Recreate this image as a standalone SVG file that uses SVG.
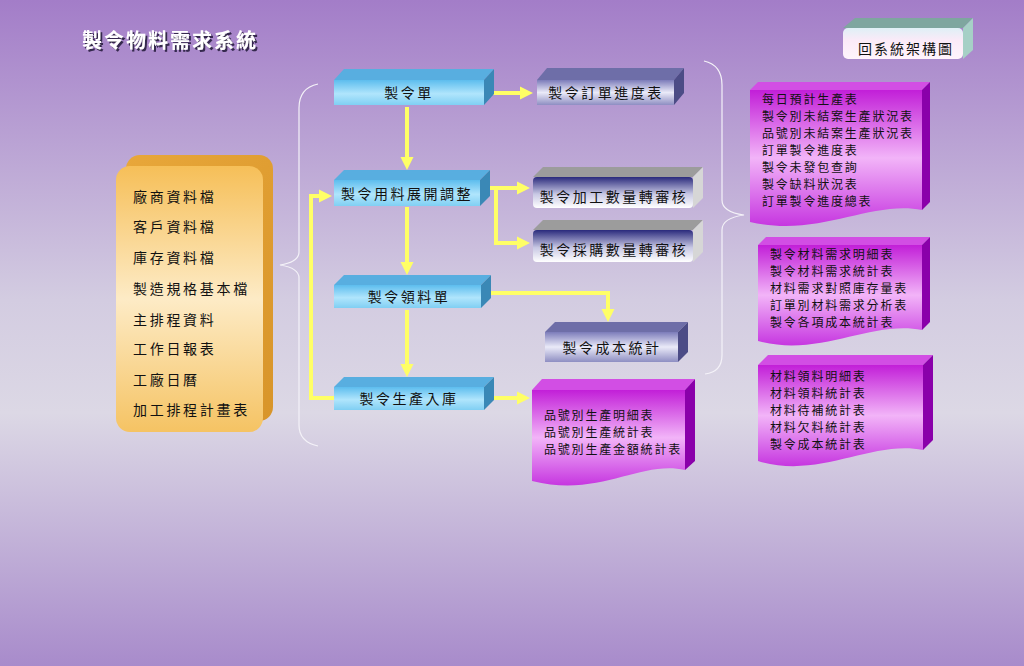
<svg xmlns="http://www.w3.org/2000/svg" width="1024" height="666" viewBox="0 0 1024 666">
<defs>
<linearGradient id="bg" x1="0" y1="0" x2="0" y2="1">
<stop offset="0" stop-color="#a37dc8"/>
<stop offset="0.45" stop-color="#d3cce1"/>
<stop offset="0.62" stop-color="#dcd8e5"/>
<stop offset="1" stop-color="#a88bcb"/>
</linearGradient>
<linearGradient id="blueF" x1="0" y1="0" x2="0" y2="1">
<stop offset="0" stop-color="#5dbdee"/>
<stop offset="0.55" stop-color="#b0e5fc"/>
<stop offset="1" stop-color="#80cff3"/>
</linearGradient>
<linearGradient id="lavF" x1="0" y1="0" x2="0" y2="1">
<stop offset="0" stop-color="#7c7cba"/>
<stop offset="0.5" stop-color="#eaeaf8"/>
<stop offset="1" stop-color="#8e8ec2"/>
</linearGradient>
<linearGradient id="navyF" x1="0" y1="0" x2="0" y2="1">
<stop offset="0" stop-color="#2a2a7c"/>
<stop offset="0.55" stop-color="#c8c8e4"/>
<stop offset="1" stop-color="#ffffff"/>
</linearGradient>
<linearGradient id="purF" x1="0" y1="0" x2="0" y2="1">
<stop offset="0" stop-color="#c21fd8"/>
<stop offset="0.5" stop-color="#f2b4f8"/>
<stop offset="1" stop-color="#c636e0"/>
</linearGradient>
<linearGradient id="oraF" x1="0" y1="0" x2="0" y2="1">
<stop offset="0" stop-color="#f6bf58"/>
<stop offset="0.5" stop-color="#fdebc6"/>
<stop offset="1" stop-color="#f5c363"/>
</linearGradient>
<linearGradient id="oraB" x1="0" y1="0" x2="1" y2="1">
<stop offset="0" stop-color="#e8a73a"/>
<stop offset="1" stop-color="#d8952a"/>
</linearGradient>
<linearGradient id="btnF" x1="0" y1="0" x2="0" y2="1">
<stop offset="0" stop-color="#dff0f6"/>
<stop offset="0.4" stop-color="#fbeaf8"/>
<stop offset="1" stop-color="#fff4fc"/>
</linearGradient>
<filter id="sh" x="-10%" y="-30%" width="120%" height="160%">
<feDropShadow dx="2" dy="2" stdDeviation="0.6" flood-color="#2a1a40" flood-opacity="0.9"/>
</filter>
<marker id="ah" markerWidth="14" markerHeight="14" refX="4" refY="7" orient="auto" markerUnits="userSpaceOnUse">
<path d="M0,0.5 L13,7 L0,13.5 Z" fill="#ffff66"/>
</marker>
<style>
.t{font-family:"Noto Sans CJK TC","Noto Sans CJK SC",sans-serif;font-size:14px;fill:#111;letter-spacing:2.5px}
.c{text-anchor:middle}
.p{font-family:"Noto Sans CJK TC","Noto Sans CJK SC",sans-serif;font-size:12px;fill:#111;letter-spacing:1.8px}
.ln{fill:none;stroke:#ffff66;stroke-width:4;marker-end:url(#ah)}
.br{fill:none;stroke:#f4f2f8;stroke-width:1.2}
.blT{fill:#58aee0}.blS{fill:#3a88b6}
.lvT{fill:#6e6ea8}.lvS{fill:#4c4c86}
.nvT{fill:#9c9c9c}.nvS{fill:#d6d6d6}
.puT{fill:#d24ee4}.puS{fill:#8a00aa}
</style>
</defs>
<rect width="1024" height="666" fill="url(#bg)"/>

<g id="title">
<text x="82" y="48" font-family="'Noto Sans CJK TC','Noto Sans CJK SC',sans-serif" font-size="20" font-weight="bold" fill="#ffffff" letter-spacing="2" filter="url(#sh)">製令物料需求系統</text>
</g>

<g id="btn-back">
<polygon points="843,28 855,18 973,18 963,28" fill="#7ea69f"/>
<polygon points="963,28 973,18 973,50 963,59" fill="#a6d0c6"/>
<rect x="843" y="28" width="120" height="31" rx="5" fill="url(#btnF)"/>
<text class="t c" x="906" y="54" style="letter-spacing:2px">回系統架構圖</text>
</g>

<g id="sources">
<rect x="126" y="155" width="147" height="266" rx="14" fill="url(#oraB)"/>
<rect x="116" y="166" width="147" height="266" rx="14" fill="url(#oraF)"/>
<text class="t" x="133" y="202" style="letter-spacing:2.7px">廠商資料檔</text>
<text class="t" x="133" y="232" style="letter-spacing:2.7px">客戶資料檔</text>
<text class="t" x="133" y="263" style="letter-spacing:2.7px">庫存資料檔</text>
<text class="t" x="133" y="294" style="letter-spacing:2.7px">製造規格基本檔</text>
<text class="t" x="133" y="325" style="letter-spacing:2.7px">主排程資料</text>
<text class="t" x="133" y="354" style="letter-spacing:2.7px">工作日報表</text>
<text class="t" x="133" y="385" style="letter-spacing:2.7px">工廠日曆</text>
<text class="t" x="133" y="415" style="letter-spacing:2.7px">加工排程計畫表</text>
</g>

<g id="braces">
<path class="br" d="M318,84 Q299,88 299,108 V252 Q299,262 280,265 Q299,268 299,278 V425 Q299,442 318,446"/>
<path class="br" d="M704,61 Q722,65 722,85 V200 Q722,212 744,215 Q722,218 722,230 V355 Q722,372 705,374"/>
</g>

<g id="connectors">
<path class="ln" d="M489,93 H524"/>
<path class="ln" d="M407,107 V161"/>
<path class="ln" d="M481,188 H521"/>
<path class="ln" d="M496,188 V243 H521"/>
<path class="ln" d="M407,207 V266"/>
<path class="ln" d="M489,293 H608 V313"/>
<path class="ln" d="M407,310 V368"/>
<path class="ln" d="M486,398 H521"/>
<path class="ln" d="M334,398 H311 V196 H323"/>
</g>

<g id="n-order">
<polygon class="blT" points="334,80 344,69 494,69 484,80"/>
<polygon class="blS" points="484,80 494,69 494,94 484,105"/>
<rect x="334" y="80" width="150" height="25" fill="url(#blueF)"/>
<text class="t c" x="409" y="98">製令單</text>
</g>

<g id="n-adjust">
<polygon class="blT" points="334,180 344,170 490,170 480,180"/>
<polygon class="blS" points="480,180 490,170 490,196 480,206"/>
<rect x="334" y="180" width="146" height="26" fill="url(#blueF)"/>
<text class="t c" x="407" y="199">製令用料展開調整</text>
</g>

<g id="n-issue">
<polygon class="blT" points="334,285 344,275 491,275 481,285"/>
<polygon class="blS" points="481,285 491,275 491,298 481,308"/>
<rect x="334" y="285" width="147" height="23" fill="url(#blueF)"/>
<text class="t c" x="409" y="302">製令領料單</text>
</g>

<g id="n-store">
<polygon class="blT" points="334,387 344,377 494,377 484,387"/>
<polygon class="blS" points="484,387 494,377 494,400 484,410"/>
<rect x="334" y="387" width="150" height="23" fill="url(#blueF)"/>
<text class="t c" x="409" y="404">製令生產入庫</text>
</g>

<g id="n-progress">
<polygon class="lvT" points="537,80 547,68 684,68 674,80"/>
<polygon class="lvS" points="674,80 684,68 684,93 674,105"/>
<rect x="537" y="80" width="137" height="25" fill="url(#lavF)"/>
<text class="t c" x="606" y="98">製令訂單進度表</text>
</g>

<g id="n-proc">
<polygon class="nvT" points="533,177 543,167 703,167 693,177"/>
<polygon class="nvS" points="693,177 703,167 703,198 693,208"/>
<rect x="533" y="177" width="160" height="31" rx="4" fill="url(#navyF)"/>
<text class="t c" x="614" y="202">製令加工數量轉審核</text>
</g>

<g id="n-purch">
<polygon class="nvT" points="533,230 543,220 703,220 693,230"/>
<polygon class="nvS" points="693,230 703,220 703,252 693,262"/>
<rect x="533" y="230" width="160" height="32" rx="4" fill="url(#navyF)"/>
<text class="t c" x="614" y="255">製令採購數量轉審核</text>
</g>

<g id="n-cost">
<polygon class="lvT" points="545,332 555,322 688,322 678,332"/>
<polygon class="lvS" points="678,332 688,322 688,352 678,362"/>
<rect x="545" y="332" width="133" height="30" fill="url(#lavF)"/>
<text class="t c" x="612" y="353">製令成本統計</text>
</g>

<g id="r-store">
<polygon class="puT" points="532,390 542,379 695,379 685,390"/>
<polygon class="puS" points="685,390 695,379 695,461 685,470"/>
<path d="M532,390 H685 V470 C640,460 600,498 532,481 Z" fill="url(#purF)"/>
<text class="p" x="544" y="420">品號別生產明細表</text>
<text class="p" x="544" y="437">品號別生產統計表</text>
<text class="p" x="544" y="454">品號別生產金額統計表</text>
</g>

<g id="r-order">
<polygon class="puT" points="750,90 758,82 930,82 922,90"/>
<polygon class="puS" points="922,90 930,82 930,202 922,210"/>
<path d="M750,90 H922 V210 C870,200 820,238 750,222 Z" fill="url(#purF)"/>
<text class="p" x="762" y="104">每日預計生產表</text>
<text class="p" x="762" y="121">製令別未結案生產狀況表</text>
<text class="p" x="762" y="138">品號別未結案生產狀況表</text>
<text class="p" x="762" y="155">訂單製令進度表</text>
<text class="p" x="762" y="172">製令未發包查詢</text>
<text class="p" x="762" y="189">製令缺料狀況表</text>
<text class="p" x="762" y="206">訂單製令進度總表</text>
</g>

<g id="r-material">
<polygon class="puT" points="758,245 766,237 930,237 922,245"/>
<polygon class="puS" points="922,245 930,237 930,322 922,330"/>
<path d="M758,245 H922 V330 C870,320 820,358 758,341 Z" fill="url(#purF)"/>
<text class="p" x="770" y="259">製令材料需求明細表</text>
<text class="p" x="770" y="276">製令材料需求統計表</text>
<text class="p" x="770" y="293">材料需求對照庫存量表</text>
<text class="p" x="770" y="310">訂單別材料需求分析表</text>
<text class="p" x="770" y="327">製令各項成本統計表</text>
</g>

<g id="r-issue">
<polygon class="puT" points="758,365 768,355 933,355 923,365"/>
<polygon class="puS" points="923,365 933,355 933,440 923,450"/>
<path d="M758,365 H923 V450 C870,440 820,480 758,461 Z" fill="url(#purF)"/>
<text class="p" x="770" y="381">材料領料明細表</text>
<text class="p" x="770" y="398">材料領料統計表</text>
<text class="p" x="770" y="415">材料待補統計表</text>
<text class="p" x="770" y="432">材料欠料統計表</text>
<text class="p" x="770" y="449">製令成本統計表</text>
</g>
</svg>
